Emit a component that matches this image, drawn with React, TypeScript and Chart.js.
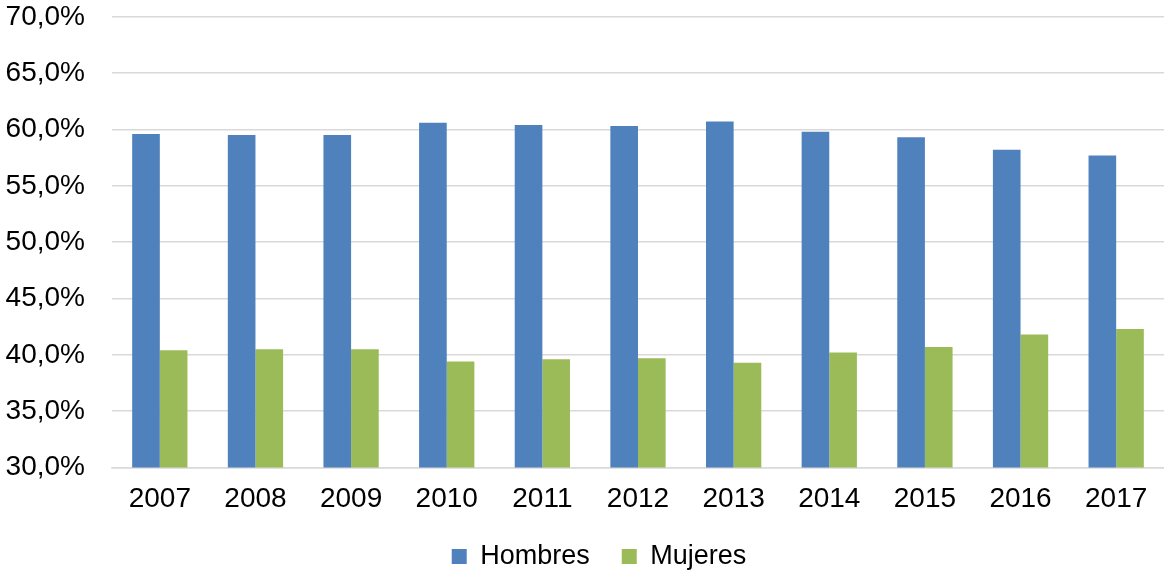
import React, { useEffect, useRef } from "react";
import { Chart, registerables } from "chart.js";

Chart.register(...registerables);

const categories = ["2007", "2008", "2009", "2010", "2011", "2012", "2013", "2014", "2015", "2016", "2017"];
const hombres = [59.6, 59.5, 59.5, 60.6, 60.4, 60.3, 60.7, 59.8, 59.3, 58.2, 57.7];
const mujeres = [40.4, 40.5, 40.5, 39.4, 39.6, 39.7, 39.3, 40.2, 40.7, 41.8, 42.3];
const yMin = 30;
const yMax = 70;
const yStep = 5;

const FONT = "'Liberation Sans', Arial, sans-serif";

const legendShift = {
  id: "legendShift",
  afterLayout(chart: any) {
    const lg = chart.legend;
    if (lg) {
      lg.left += 17;
      lg.right += 17;
    }
  },
};

export default function App() {
  const ref = useRef<HTMLCanvasElement>(null);
  useEffect(() => {
    if (!ref.current) return;
    const chart = new Chart(ref.current, {
      type: "bar",
      data: {
        labels: categories,
        datasets: [
          { label: "Hombres", data: hombres, backgroundColor: "#4F81BD", borderWidth: 0 },
          { label: "Mujeres", data: mujeres, backgroundColor: "#9BBB59", borderWidth: 0 },
        ],
      },
      plugins: [legendShift],
      options: {
        animation: false,
        responsive: false,
        maintainAspectRatio: false,
        datasets: { bar: { categoryPercentage: 0.578, barPercentage: 1 } },
        layout: { padding: { left: 0, right: 0, top: 0, bottom: -7 } },
        plugins: {
          tooltip: { enabled: false },
          legend: {
            position: "bottom",
            labels: {
              font: { family: FONT, size: 27 },
              color: "#000",
              boxWidth: 15,
              boxHeight: 15,
              padding: 32,
            },
          },
        },
        scales: {
          x: {
            afterFit: (s: any) => { s.height = 43.5; },
            grid: { display: false, drawTicks: false },
            border: { display: true, color: "#d9d9d9", width: 1.5 },
            ticks: { font: { family: FONT, size: 28 }, color: "#000", padding: 15 },
          },
          y: {
            min: yMin,
            max: yMax,
            afterFit: (s: any) => { s.width = 112; },
            grid: { color: "#d9d9d9", lineWidth: 1.5, drawTicks: true, tickLength: 27, tickColor: "rgba(0,0,0,0)" },
            border: { display: false },
            ticks: {
              stepSize: yStep,
              padding: 0,
              font: { family: FONT, size: 28 },
              color: "#000",
              callback: (v: any) => Number(v).toFixed(1).replace(".", ",") + "%",
            },
          },
        },
      },
    });
    return () => chart.destroy();
  }, []);
  return (
    <div style={{ position: "fixed", left: 0, top: 0, width: 1164, height: 573, background: "#fff" }}>
      <canvas ref={ref} width={1164} height={573} />
    </div>
  );
}
